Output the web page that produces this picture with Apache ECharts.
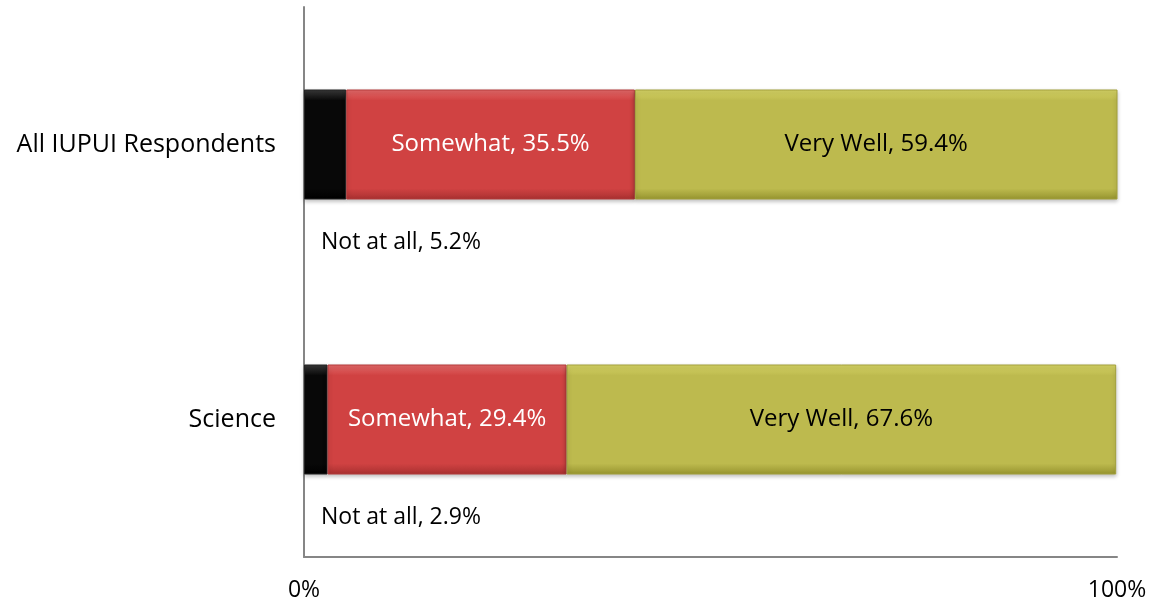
<!DOCTYPE html>
<html>
<head>
<meta charset="utf-8">
<script src="https://cdn.jsdelivr.net/npm/echarts@6/dist/echarts.min.js"></script>
<style>
  html, body { margin: 0; padding: 0; background: #fff; }
  #chart { width: 1153px; height: 607px; }
</style>
</head>
<body>
<div id="chart"></div>
<script>
var categories = ['All IUPUI Respondents', 'Science'];
var notAtAll = [5.2, 2.9];
var somewhat = [35.5, 29.4];
var veryWell = [59.4, 67.6];
var xTicks = ['0%', '100%'];

var chart = echarts.init(document.getElementById('chart'));

function bevel(top, mid, bottom) {
    return new echarts.graphic.LinearGradient(0, 0, 0, 1, [
        { offset: 0, color: top },
        { offset: 0.1, color: mid },
        { offset: 0.9, color: mid },
        { offset: 1, color: bottom }
    ]);
}

var font = '"Open Sans", Lato, sans-serif';

var option = {
    animation: false,
    grid: { left: 304, right: 36, top: 7, bottom: 50 },
    xAxis: {
        type: 'value',
        min: 0,
        max: 100,
        interval: 100,
        axisLine: { show: true, lineStyle: { color: '#868686', width: 2 } },
        axisTick: { show: false },
        splitLine: { show: false },
        axisLabel: {
            margin: 22,
            fontSize: 23,
            color: '#000',
            fontFamily: font,
            formatter: function (v) { return v === 0 ? xTicks[0] : xTicks[1]; }
        }
    },
    yAxis: {
        type: 'category',
        inverse: true,
        data: categories,
        axisLine: { show: true, lineStyle: { color: '#868686', width: 2 } },
        axisTick: { show: false },
        axisLabel: { margin: 28, fontSize: 25, color: '#000', fontFamily: font }
    },
    series: [{
        name: 'Not at all',
        type: 'bar',
        stack: 'total',
        barWidth: '40%',
        data: notAtAll,
        itemStyle: {
            color: bevel('#3a3a3a', '#080808', '#000'),
            borderColor: '#222',
            borderWidth: 1,
            shadowColor: 'rgba(0,0,0,0.25)',
            shadowBlur: 4,
            shadowOffsetY: 2
        },
        label: {
            show: true,
            position: [17, 153],
            verticalAlign: 'middle',
            color: '#000',
            fontSize: 23,
            fontFamily: font,
            formatter: function (p) { return 'Not at all, ' + p.value + '%'; }
        }
    }, {
        name: 'Somewhat',
        type: 'bar',
        stack: 'total',
        data: somewhat,
        itemStyle: {
            color: bevel('#e46a6a', '#d04242', '#a83030'),
            borderColor: '#b33a3a',
            borderWidth: 1,
            shadowColor: 'rgba(0,0,0,0.25)',
            shadowBlur: 4,
            shadowOffsetY: 2
        },
        label: {
            show: true,
            position: 'inside',
            color: '#fff',
            fontSize: 24,
            fontFamily: font,
            formatter: function (p) { return 'Somewhat, ' + p.value + '%'; }
        }
    }, {
        name: 'Very Well',
        type: 'bar',
        stack: 'total',
        data: veryWell,
        itemStyle: {
            color: bevel('#d6d466', '#bdba4e', '#96942f'),
            borderColor: '#a3a03c',
            borderWidth: 1,
            shadowColor: 'rgba(0,0,0,0.25)',
            shadowBlur: 4,
            shadowOffsetY: 2
        },
        label: {
            show: true,
            position: 'inside',
            color: '#000',
            fontSize: 24,
            fontFamily: font,
            formatter: function (p) { return 'Very Well, ' + p.value + '%'; }
        }
    }]
};

chart.setOption(option);
</script>
</body>
</html>
